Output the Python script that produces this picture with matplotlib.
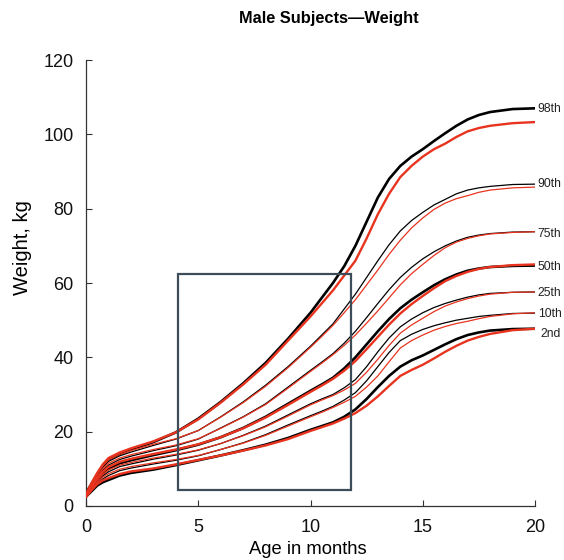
import matplotlib
matplotlib.use("Agg")
import matplotlib.pyplot as plt
from matplotlib.patches import Rectangle

plt.rcParams['font.family'] = ['Liberation Sans', 'DejaVu Sans']

ages = [0, 0.25, 0.5, 0.75, 1, 1.5, 2, 3, 4, 5, 6, 7, 8, 9, 10, 10.5, 11, 11.5, 12, 12.5,
        13, 13.5, 14, 14.5, 15, 15.5, 16, 16.5, 17, 17.5, 18, 19, 20]

percentiles = ["98th", "90th", "75th", "50th", "25th", "10th", "2nd"]

black_98 = [3.5, 6.0, 8.5, 10.8, 12.5, 14.0, 15.2, 17.2, 19.8, 23.5, 28.0, 33.0, 38.5, 45.0, 52.0, 56.0, 60.0, 64.5, 70.0, 76.5, 83.0, 88.0, 91.5, 94.0, 96.0, 98.2, 100.3, 102.3, 104.0, 105.2, 106.0, 106.8, 107.0]
red_98 = [3.3, 6.2, 8.9, 11.2, 12.9, 14.4, 15.5, 17.4, 19.8, 23.3, 27.8, 32.7, 38.0, 44.5, 51.0, 54.5, 58.0, 62.0, 66.0, 72.0, 78.5, 84.0, 88.5, 91.5, 94.0, 96.0, 97.5, 99.3, 100.8, 101.7, 102.3, 103.0, 103.3]

black_90 = [3.3, 5.8, 8.2, 10.4, 12.0, 13.5, 14.5, 16.3, 18.0, 20.3, 24.0, 28.0, 32.5, 37.5, 43.0, 46.0, 49.0, 53.0, 57.0, 61.5, 66.0, 70.3, 74.0, 76.8, 79.0, 81.0, 82.5, 84.0, 85.0, 85.6, 86.0, 86.5, 86.6]
red_90 = [3.2, 6.0, 8.6, 10.8, 12.4, 13.9, 14.9, 16.6, 18.1, 20.3, 23.9, 27.8, 32.2, 37.2, 42.7, 45.6, 48.6, 52.0, 55.5, 59.5, 63.5, 67.7, 71.5, 74.8, 77.5, 79.8, 81.5, 82.7, 83.5, 84.4, 85.0, 85.6, 85.8]

black_75 = [3.1, 5.4, 7.6, 9.6, 11.0, 12.5, 13.4, 14.9, 16.2, 18.0, 21.0, 24.0, 27.5, 32.0, 36.5, 38.7, 41.0, 43.8, 47.0, 50.7, 54.5, 58.2, 61.5, 64.2, 66.5, 68.4, 70.0, 71.3, 72.3, 72.9, 73.3, 73.7, 73.8]
red_75 = [3.0, 5.6, 8.0, 10.0, 11.5, 12.9, 13.8, 15.2, 16.4, 18.1, 20.9, 23.9, 27.3, 31.7, 36.2, 38.4, 40.7, 43.2, 46.0, 49.2, 52.5, 56.0, 59.5, 62.5, 65.0, 67.4, 69.5, 71.0, 72.0, 72.7, 73.2, 73.6, 73.8]

black_50 = [3.0, 5.0, 7.0, 8.8, 10.0, 11.5, 12.3, 13.7, 15.0, 16.5, 18.5, 21.0, 24.0, 27.5, 31.0, 32.7, 34.5, 37.0, 40.0, 43.5, 47.0, 50.3, 53.2, 55.5, 57.5, 59.4, 61.0, 62.3, 63.3, 63.9, 64.3, 64.6, 64.7]
red_50 = [2.9, 5.3, 7.4, 9.2, 10.5, 11.9, 12.7, 14.0, 15.2, 16.6, 18.5, 20.9, 23.8, 27.2, 30.7, 32.4, 34.2, 36.4, 39.0, 42.2, 45.5, 48.8, 51.8, 54.3, 56.5, 58.6, 60.5, 61.9, 63.0, 63.8, 64.3, 64.8, 65.0]

black_25 = [2.9, 4.7, 6.5, 8.1, 9.2, 10.6, 11.3, 12.6, 13.7, 15.0, 16.8, 19.0, 21.5, 24.5, 27.5, 28.8, 30.0, 31.8, 34.0, 37.5, 41.5, 45.2, 48.2, 50.3, 52.0, 53.4, 54.5, 55.4, 56.2, 56.8, 57.2, 57.5, 57.6]
red_25 = [2.8, 5.0, 6.9, 8.5, 9.7, 11.0, 11.7, 12.9, 13.9, 15.1, 16.8, 18.9, 21.3, 24.2, 27.2, 28.5, 29.7, 31.2, 33.0, 36.0, 39.5, 43.2, 46.5, 48.7, 50.5, 52.3, 53.8, 54.9, 55.8, 56.5, 57.0, 57.5, 57.6]

black_10 = [2.7, 4.3, 6.0, 7.3, 8.2, 9.5, 10.2, 11.3, 12.3, 13.5, 15.2, 17.0, 19.2, 21.8, 24.3, 25.5, 26.8, 28.5, 30.5, 33.7, 37.5, 41.3, 44.5, 46.2, 47.5, 48.5, 49.3, 50.0, 50.5, 51.0, 51.3, 51.8, 51.9]
red_10 = [2.6, 4.6, 6.4, 7.8, 8.7, 9.9, 10.6, 11.6, 12.5, 13.6, 15.2, 16.9, 19.0, 21.5, 24.0, 25.2, 26.5, 27.9, 29.5, 32.0, 35.0, 38.8, 42.5, 44.5, 46.0, 47.3, 48.3, 49.1, 49.7, 50.4, 51.0, 51.7, 52.0]

black_2 = [2.5, 4.0, 5.5, 6.4, 7.0, 8.2, 8.9, 9.8, 11.0, 12.3, 13.6, 15.0, 16.5, 18.3, 20.5, 21.5, 22.5, 24.0, 26.0, 28.8, 32.0, 35.0, 37.5, 39.2, 40.5, 42.0, 43.5, 44.9, 46.0, 46.7, 47.2, 47.6, 47.7]
red_2 = [2.4, 4.3, 5.9, 6.9, 7.5, 8.6, 9.3, 10.1, 11.2, 12.4, 13.6, 14.9, 16.3, 18.0, 20.2, 21.2, 22.2, 23.5, 25.0, 27.0, 29.5, 32.3, 35.0, 36.6, 38.0, 39.7, 41.5, 43.1, 44.5, 45.5, 46.3, 47.3, 47.7]

black_series = [black_98, black_90, black_75, black_50, black_25, black_10, black_2]
red_series = [red_98, red_90, red_75, red_50, red_25, red_10, red_2]
thick = [True, False, False, True, False, False, True]

label_y = [106.7, 86.6, 73.2, 64.4, 57.3, 51.6, 46.2]

x_ticks = [0, 5, 10, 15, 20]
y_ticks = [0, 20, 40, 60, 80, 100, 120]

box_x0, box_x1 = 4.1, 11.8
box_y0, box_y1 = 4.3, 62.4

W, H = 564, 560
fig = plt.figure(figsize=(W / 100, H / 100), dpi=100)
ax = fig.add_axes([86 / W, 54 / H, (535 - 86) / W, (506 - 60) / H])

red = '#e8341f'
for b, t in zip(black_series, thick):
    ax.plot(ages, b, color='black', lw=1.9 if t else 0.9, solid_capstyle='round',
            solid_joinstyle='round', zorder=3)
for r, t in zip(red_series, thick):
    ax.plot(ages, r, color=red, lw=1.7 if t else 0.9, solid_capstyle='round',
            solid_joinstyle='round', zorder=4)

for lab, yv in zip(percentiles, label_y):
    xo = 20.25 if lab == "2nd" else 20.12
    ax.text(xo, yv, lab, fontsize=8.7, va='center', ha='left', color='#222222', clip_on=False)

ax.add_patch(Rectangle((box_x0, box_y0), box_x1 - box_x0, box_y1 - box_y0,
                       fill=False, edgecolor='#3d4c59', lw=1.6, zorder=5))

ax.set_xlim(0, 20)
ax.set_ylim(0, 120)
ax.set_xticks(x_ticks)
ax.set_yticks(y_ticks)
ax.tick_params(direction='in', length=4, width=0.8, colors='#333333', labelsize=13,
               labelcolor='#111111')
ax.tick_params(axis='x', pad=9.5)
ax.tick_params(axis='y', pad=9)
for s in ['top', 'right']:
    ax.spines[s].set_visible(False)
for s in ['left', 'bottom']:
    ax.spines[s].set_color('#333333')
    ax.spines[s].set_linewidth(0.9)

fig.text(329 / W, 1 - 18 / H, "Male Subjects\u2014Weight", fontsize=11.8, fontweight='bold',
         ha='center', va='center')
fig.text(308 / W, 1 - 549 / H, "Age in months", fontsize=13.2, ha='center', va='center')
fig.text(23 / W, 1 - 248 / H, "Weight, kg", fontsize=14.5, ha='center', va='center', rotation=90)

fig.savefig('out.png', dpi=100)
